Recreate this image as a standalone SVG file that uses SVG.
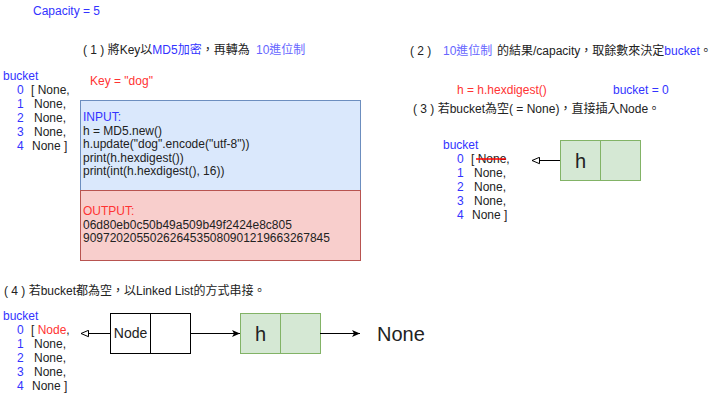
<svg xmlns="http://www.w3.org/2000/svg" width="721" height="407" viewBox="0 0 721 407">
<defs>
<style>
text{font-family:"Liberation Sans","Noto Sans CJK TC",sans-serif;font-size:12px;fill:#222}
.b{fill:#3333ff}
.p{fill:#6666ff}
.r{fill:#ff3333}
.big{font-size:20px}
.line{stroke:#000;stroke-width:1;fill:none}
</style>
<marker id="openTri" viewBox="0 0 9 8" refX="8.5" refY="4" markerWidth="9" markerHeight="8" markerUnits="userSpaceOnUse" orient="auto">
<path d="M1,0.8 L8.5,4 L1,7.2 Z" fill="#fff" stroke="#000" stroke-width="1"/>
</marker>
<marker id="fillTri" viewBox="0 0 8 8" refX="8" refY="4" markerWidth="8" markerHeight="8" markerUnits="userSpaceOnUse" orient="auto">
<path d="M0,0.5 L8,4 L0,7.5 L2,4 Z" fill="#000"/>
</marker>
</defs>
<rect width="721" height="407" fill="#fff"/>

<g id="capacity"><text x="33" y="15" class="b">Capacity = 5</text></g>

<g id="step1"><text x="83" y="54">( 1 ) 將Key以<tspan class="b">MD5加密</tspan>，再轉為 <tspan x="256" class="p">10進位制</tspan></text></g>
<g id="step2"><text x="410" y="55">( 2 ) <tspan x="443" class="p">10進位制</tspan><tspan x="497">的結果/capacity，取餘數來決定</tspan><tspan class="b">bucket</tspan>。</text></g>
<g id="step3"><text x="413" y="113">( 3 ) 若bucket為空( = None)，直接插入Node。</text></g>
<g id="step4"><text x="4" y="295">( 4 ) 若bucket都為空，以Linked List的方式串接。</text></g>

<g id="key"><text x="90" y="85" class="r">Key = "dog"</text></g>
<g id="hexdigest"><text x="457" y="94" class="r">h = h.hexdigest()</text></g>
<g id="bucketzero"><text x="613" y="94" class="b">bucket = 0</text></g>

<g id="bucket1">
<text x="3" y="80" class="b">bucket</text>
<text x="17" y="94" class="b">0</text><text x="31" y="94">[ None,</text>
<text x="17" y="108" class="b">1</text><text x="34" y="108">None,</text>
<text x="17" y="122" class="b">2</text><text x="34" y="122">None,</text>
<text x="17" y="136" class="b">3</text><text x="34" y="136">None,</text>
<text x="17" y="150" class="b">4</text><text x="32" y="150">None ]</text>
</g>

<g id="inputBox">
<rect x="80.5" y="100.5" width="280" height="90" fill="#dae8fc" stroke="#6c8ebf"/>
<text x="83" y="121" class="b">INPUT:</text>
<text x="83" y="134.5">h = MD5.new()</text>
<text x="83" y="148">h.update("dog".encode("utf-8"))</text>
<text x="83" y="161.5">print(h.hexdigest())</text>
<text x="83" y="175">print(int(h.hexdigest(), 16))</text>
</g>
<g id="outputBox">
<rect x="80.5" y="190.5" width="280" height="70" fill="#f8cecc" stroke="#b85450"/>
<text x="83" y="215" class="r">OUTPUT:</text>
<text x="83" y="228.5">06d80eb0c50b49a509b49f2424e8c805</text>
<text x="83" y="242">9097202055026264535080901219663267845</text>
</g>

<g id="bucket3">
<text x="443" y="149" class="b">bucket</text>
<text x="457" y="163" class="b">0</text><text x="471" y="163">[ None,</text>
<text x="457" y="177" class="b">1</text><text x="474" y="177">None,</text>
<text x="457" y="191" class="b">2</text><text x="474" y="191">None,</text>
<text x="457" y="205" class="b">3</text><text x="474" y="205">None,</text>
<text x="457" y="219" class="b">4</text><text x="472" y="219">None ]</text>
<line x1="476" y1="159" x2="506" y2="159" stroke="#ff0000" stroke-width="1.5"/>
</g>

<g id="nodeH3">
<rect x="560.5" y="140.5" width="40" height="40" fill="#d5e8d4" stroke="#82b366"/>
<rect x="600.5" y="140.5" width="40" height="40" fill="#d5e8d4" stroke="#82b366"/>
<text x="580.5" y="168" class="big" text-anchor="middle">h</text>
</g>

<g id="bucket4">
<text x="3" y="320" class="b">bucket</text>
<text x="17" y="334" class="b">0</text><text x="31" y="334">[ <tspan class="r">Node</tspan>,</text>
<text x="17" y="348" class="b">1</text><text x="34" y="348">None,</text>
<text x="17" y="362" class="b">2</text><text x="34" y="362">None,</text>
<text x="17" y="376" class="b">3</text><text x="34" y="376">None,</text>
<text x="17" y="390" class="b">4</text><text x="32" y="390">None ]</text>
</g>

<g id="nodeNode">
<rect x="110.5" y="313.5" width="40" height="40" fill="#fff" stroke="#000"/>
<rect x="150.5" y="313.5" width="40" height="40" fill="#fff" stroke="#000"/>
<text x="130.5" y="338" text-anchor="middle" style="font-size:14px">Node</text>
</g>

<g id="nodeH4">
<rect x="240.5" y="313.5" width="40" height="40" fill="#d5e8d4" stroke="#82b366"/>
<rect x="280.5" y="313.5" width="40" height="40" fill="#d5e8d4" stroke="#82b366"/>
<text x="260.5" y="341" class="big" text-anchor="middle">h</text>
</g>

<g id="noneEnd"><text x="377" y="341" class="big">None</text></g>

<g id="connectors">
<line class="line" x1="560" y1="160.5" x2="532" y2="160.5" marker-end="url(#openTri)"/>
<line class="line" x1="110" y1="333.5" x2="81" y2="333.5" marker-end="url(#openTri)"/>
<line class="line" x1="190" y1="333.5" x2="240" y2="333.5" marker-end="url(#fillTri)"/>
<line class="line" x1="320" y1="333.5" x2="360" y2="333.5" marker-end="url(#fillTri)"/>
</g>
</svg>
